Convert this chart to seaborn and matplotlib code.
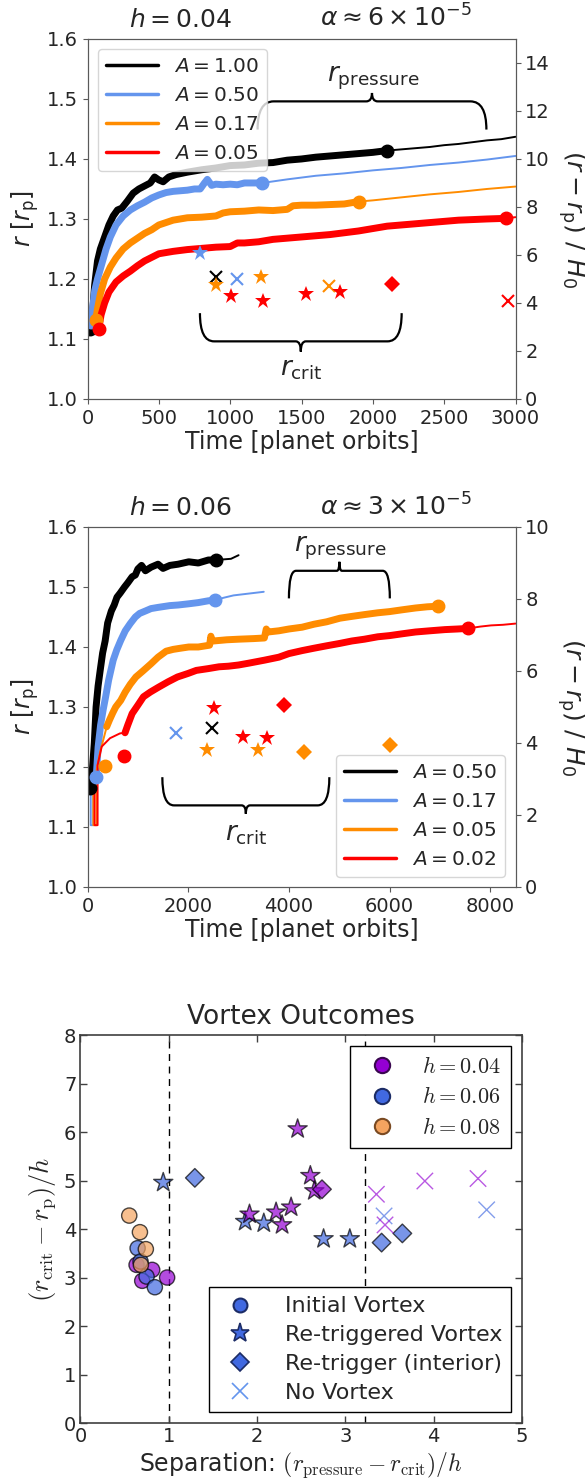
import numpy as np
import pandas as pd
import matplotlib
matplotlib.use("Agg")
import matplotlib.pyplot as plt
from matplotlib.path import Path
from matplotlib.patches import PathPatch
from matplotlib.lines import Line2D
from matplotlib.font_manager import FontProperties
import seaborn as sns

# ---------------- panel 1: h = 0.04 ----------------
h04_amps = ['1.00', '0.50', '0.17', '0.05']

h04_black_t = [15, 25, 35, 50, 70, 90, 120, 150, 180, 210, 240, 280, 320, 360, 400, 440, 470, 500, 530,
               570, 620, 700, 800, 900, 1000, 1100, 1200, 1300, 1400, 1500, 1600, 1700, 1800, 1900, 2000, 2100]
h04_black_r = [1.115, 1.118, 1.14, 1.19, 1.23, 1.25, 1.27, 1.29, 1.305, 1.315, 1.318, 1.33, 1.343, 1.35, 1.355,
               1.36, 1.37, 1.365, 1.362, 1.37, 1.374, 1.378, 1.382, 1.385, 1.389, 1.39, 1.393, 1.394, 1.398,
               1.4, 1.403, 1.405, 1.407, 1.409, 1.411, 1.414]
h04_black_tail_t = [2100, 2200, 2300, 2400, 2500, 2600, 2700, 2800, 2900, 3000]
h04_black_tail_r = [1.414, 1.416, 1.418, 1.42, 1.423, 1.425, 1.428, 1.431, 1.433, 1.437]

h04_blue_t = [20, 35, 50, 70, 100, 130, 160, 200, 250, 300, 350, 400, 450, 500, 550, 600, 650, 700, 750,
              790, 820, 840, 870, 900, 950, 1000, 1050, 1100, 1150, 1224]
h04_blue_r = [1.13, 1.15, 1.18, 1.2, 1.225, 1.25, 1.27, 1.29, 1.305, 1.315, 1.322, 1.328, 1.335, 1.34, 1.344,
              1.346, 1.347, 1.348, 1.35, 1.35, 1.36, 1.366, 1.356, 1.358, 1.357, 1.358, 1.357, 1.36, 1.36, 1.36]
h04_blue_tail_t = [1224, 1400, 1600, 1800, 2000, 2200, 2400, 2600, 2800, 3000]
h04_blue_tail_r = [1.36, 1.366, 1.372, 1.376, 1.381, 1.385, 1.39, 1.394, 1.399, 1.405]

h04_orange_t = [56, 70, 90, 120, 160, 200, 250, 300, 350, 400, 450, 500, 600, 700, 800, 900, 950, 1000,
                1100, 1200, 1300, 1400, 1440, 1500, 1600, 1700, 1800, 1900]
h04_orange_r = [1.131, 1.15, 1.175, 1.2, 1.22, 1.235, 1.25, 1.26, 1.268, 1.276, 1.282, 1.29, 1.298, 1.302,
                1.303, 1.305, 1.31, 1.312, 1.313, 1.315, 1.314, 1.316, 1.322, 1.323, 1.323, 1.324, 1.325, 1.329]
h04_orange_tail_t = [1900, 2000, 2200, 2400, 2600, 2800, 3000]
h04_orange_tail_r = [1.329, 1.331, 1.336, 1.341, 1.345, 1.35, 1.354]

h04_red_t = [79, 95, 120, 150, 200, 250, 300, 350, 400, 450, 500, 600, 700, 800, 900, 1000, 1050, 1100,
             1200, 1300, 1400, 1500, 1600, 1700, 1800, 1900, 2000, 2100, 2200, 2300, 2400, 2500, 2600,
             2700, 2800, 2930]
h04_red_r = [1.117, 1.14, 1.16, 1.178, 1.195, 1.205, 1.213, 1.222, 1.23, 1.236, 1.242, 1.246, 1.249, 1.251,
             1.253, 1.254, 1.26, 1.26, 1.262, 1.266, 1.268, 1.27, 1.272, 1.274, 1.277, 1.28, 1.284, 1.288,
             1.29, 1.292, 1.294, 1.296, 1.298, 1.299, 1.3, 1.301]
h04_red_tail_t = [2930, 3000]
h04_red_tail_r = [1.301, 1.303]

h04_start_t = [20, 25, 56, 79]
h04_start_r = [1.117, 1.128, 1.131, 1.117]

h04_crit_t = [788, 899, 899, 1047, 1218, 1007, 1229, 1528, 1694, 1771, 2136, 2947]
h04_crit_r = [1.243, 1.203, 1.190, 1.200, 1.204, 1.172, 1.164, 1.175, 1.189, 1.178, 1.192, 1.164]
h04_crit_amp = ['0.50', '1.00', '0.17', '0.50', '0.17', '0.05', '0.05', '0.05', '0.17', '0.05', '0.05', '0.05']
h04_crit_kind = ['star', 'x', 'star', 'x', 'star', 'star', 'star', 'star', 'x', 'star', 'diamond', 'x']

# ---------------- panel 2: h = 0.06 ----------------
h06_amps = ['0.50', '0.17', '0.05', '0.02']

h06_black_t = [0, 60, 100, 135, 170, 210, 250, 300, 350, 400, 473, 530, 585, 650, 735, 800, 886, 950, 1000,
               1073, 1150, 1261, 1400, 1500, 1636, 1800, 2011, 2200, 2400, 2560]
h06_black_r = [1.165, 1.167, 1.2, 1.24, 1.3, 1.335, 1.36, 1.39, 1.41, 1.44, 1.46, 1.47, 1.483, 1.49, 1.5,
               1.507, 1.517, 1.52, 1.53, 1.536, 1.527, 1.533, 1.538, 1.531, 1.536, 1.538, 1.542, 1.54, 1.545, 1.545]
h06_black_tail_t = [2560, 2700, 2850, 3000]
h06_black_tail_r = [1.545, 1.546, 1.547, 1.553]
h06_black_head_t = [0, 40]
h06_black_head_r = [1.165, 1.165]

h06_blue_t = [173, 210, 260, 310, 360, 420, 510, 580, 660, 750, 848, 950, 1036, 1150, 1261, 1400, 1636,
              1800, 2011, 2200, 2400, 2537]
h06_blue_r = [1.183, 1.233, 1.27, 1.295, 1.317, 1.345, 1.378, 1.395, 1.411, 1.427, 1.439, 1.45, 1.456, 1.46,
              1.464, 1.466, 1.469, 1.47, 1.472, 1.474, 1.477, 1.478]
h06_blue_tail_t = [2537, 2700, 2900, 3100, 3300, 3500]
h06_blue_tail_r = [1.478, 1.482, 1.486, 1.488, 1.49, 1.492]
h06_blue_head_t = [64, 64, 115, 115, 173]
h06_blue_head_r = [1.17, 1.103, 1.103, 1.17, 1.183]

h06_orange_t = [381, 435, 500, 560, 660, 750, 850, 961, 1100, 1261, 1400, 1561, 1700, 1850, 2011, 2200,
                2424, 2450, 2470, 2500, 2762, 3000, 3300, 3512, 3550, 3587, 3800, 4000, 4263, 4500, 4750,
                5013, 5250, 5500, 5764, 6000, 6250, 6514, 6750, 6965]
h06_orange_r = [1.267, 1.278, 1.29, 1.3, 1.311, 1.325, 1.338, 1.35, 1.36, 1.372, 1.383, 1.393, 1.396,
                1.398, 1.4, 1.4, 1.403, 1.418, 1.412, 1.41, 1.412, 1.413, 1.414, 1.415, 1.43, 1.425, 1.427,
                1.43, 1.433, 1.438, 1.442, 1.448, 1.451, 1.454, 1.457, 1.459, 1.462, 1.465, 1.467, 1.468]
h06_orange_head_t = [115, 115, 180, 180, 250, 381]
h06_orange_head_r = [1.17, 1.103, 1.103, 1.195, 1.225, 1.267]

h06_red_t = [745, 800, 886, 1000, 1111, 1250, 1411, 1600, 1786, 2000, 2161, 2400, 2612, 2800, 3000, 3200,
             3512, 3800, 4000, 4263, 4500, 4750, 5013, 5250, 5500, 5764, 6000, 6250, 6514, 6800, 7100,
             7350, 7565]
h06_red_r = [1.257, 1.27, 1.289, 1.303, 1.317, 1.325, 1.333, 1.342, 1.35, 1.356, 1.361, 1.364, 1.367,
             1.368, 1.37, 1.373, 1.378, 1.383, 1.389, 1.394, 1.398, 1.402, 1.406, 1.41, 1.413, 1.417,
             1.419, 1.422, 1.425, 1.427, 1.429, 1.43, 1.431]
h06_red_tail_t = [7565, 7800, 8015, 8250, 8500]
h06_red_tail_r = [1.431, 1.434, 1.436, 1.437, 1.439]
h06_red_head_t = [140, 140, 200, 200, 282, 447, 645, 745]
h06_red_head_r = [1.16, 1.103, 1.103, 1.203, 1.234, 1.248, 1.256, 1.257]

h06_start_t = [40, 173, 350, 731]
h06_start_r = [1.165, 1.183, 1.202, 1.219]

h06_crit_t = [1749, 2477, 2514, 2364, 3085, 3557, 3385, 3910, 4300, 6004]
h06_crit_r = [1.257, 1.265, 1.298, 1.229, 1.250, 1.249, 1.229, 1.304, 1.225, 1.236]
h06_crit_amp = ['0.17', '0.50', '0.02', '0.05', '0.02', '0.02', '0.05', '0.02', '0.05', '0.05']
h06_crit_kind = ['x', 'x', 'star', 'star', 'star', 'star', 'star', 'diamond', 'diamond', 'diamond']

# ---------------- panel 3: vortex outcomes ----------------
init_sep = [0.635, 0.812, 0.699, 0.981, 0.647, 0.680, 0.748, 0.842, 0.552, 0.673, 0.740, 0.684]
init_crit = [3.261, 3.158, 2.932, 3.000, 3.605, 3.330, 3.020, 2.800, 4.277, 3.935, 3.585, 3.261]
init_h = [0.04, 0.04, 0.04, 0.04, 0.06, 0.06, 0.06, 0.06, 0.08, 0.08, 0.08, 0.08]

retrig_sep = [0.937, 1.865, 2.076, 2.753, 3.050, 2.459, 2.603, 2.648, 2.385, 2.215, 1.914, 2.283]
retrig_crit = [4.959, 4.153, 4.120, 3.797, 3.797, 6.063, 5.100, 4.786, 4.450, 4.347, 4.305, 4.085]
retrig_h = [0.06, 0.06, 0.06, 0.06, 0.06, 0.04, 0.04, 0.04, 0.04, 0.04, 0.04, 0.04]

interior_sep = [1.295, 3.410, 3.645, 2.735]
interior_crit = [5.055, 3.720, 3.910, 4.820]
interior_h = [0.06, 0.06, 0.06, 0.04]

novortex_sep = [3.438, 4.600, 3.351, 3.900, 4.502, 3.449]
novortex_crit = [4.270, 4.396, 4.717, 4.990, 5.041, 4.085]
novortex_h = [0.06, 0.06, 0.04, 0.04, 0.04, 0.04]

boundary_sep = [1.0, 3.22]

line_colors = ['black', 'cornflowerblue', 'darkorange', 'red']
kind_style = {
    'star': dict(marker='*', ms=12, mew=0),
    'x': dict(marker='x', ms=8, mew=1.5),
    'diamond': dict(marker='D', ms=8, mew=0),
}
h_palette = {0.04: 'darkviolet', 0.06: 'royalblue', 0.08: 'sandybrown'}
h_edges = {0.04: '#3a0750', 0.06: '#1c2c66', 0.08: '#7a4a22'}


def draw_brace(ax, x0, x1, y, end, tip, corner=0.07, notch=0.025):
    # curly brace: ends at height `end`, middle point at height `tip`
    w = (x1 - x0) * corner
    n = (x1 - x0) * notch
    xm = 0.5 * (x0 + x1)
    verts = [(x0, end), (x0, y), (x0 + w, y),
             (xm - n, y), (xm, y), (xm, tip),
             (xm, y), (xm + n, y),
             (x1 - w, y), (x1, y), (x1, end)]
    codes = [Path.MOVETO, Path.CURVE3, Path.CURVE3,
             Path.LINETO, Path.CURVE3, Path.CURVE3,
             Path.CURVE3, Path.CURVE3,
             Path.LINETO, Path.CURVE3, Path.CURVE3]
    ax.add_patch(PathPatch(Path(verts, codes), fill=False, lw=1.6, edgecolor='k'))


def draw_run(ax, t, r, thin_parts, color):
    for tt, rr in thin_parts:
        sns.lineplot(x=tt, y=rr, ax=ax, color=color, lw=1.4, sort=False, estimator=None)
    sns.lineplot(x=t, y=r, ax=ax, color=color, lw=5, sort=False, estimator=None,
                 solid_capstyle='round', solid_joinstyle='round')
    ax.plot(t[-1], r[-1], 'o', color=color, ms=9)


def style_time_panel(ax, amps, hval, alpha_txt, rmax_h, xmax, xticks, legend_loc):
    ax.set_xlim(0, xmax)
    ax.set_ylim(1.0, 1.6)
    ax.set_xticks(xticks)
    ax.set_yticks([1.0, 1.1, 1.2, 1.3, 1.4, 1.5, 1.6])
    ax.set_xlabel('Time [planet orbits]', fontsize=17, labelpad=2)
    ax.set_ylabel(r'$r$ [$r_{\rm p}$]', fontsize=17)
    ax.tick_params(labelsize=14, color='0.35')
    for s in ax.spines.values():
        s.set_color('0.35')
        s.set_visible(True)
    tw = ax.twinx()
    tw.set_ylim(0, rmax_h)
    tw.set_yticks(np.arange(0, rmax_h + 0.1, 2))
    tw.tick_params(labelsize=14, color='0.35')
    for s in tw.spines.values():
        s.set_color('0.35')
    tw.set_ylabel(r'$(r - r_{\rm p})\ /\ H_0$', rotation=270, va='bottom', fontsize=18, labelpad=4)
    ax.text(0.216, 1.033, r'$h = %s$' % hval, transform=ax.transAxes, ha='center',
            va='baseline', fontsize=18)
    ax.text(0.72, 1.033, alpha_txt, transform=ax.transAxes, ha='center', va='baseline', fontsize=18)
    handles = [Line2D([], [], color=c, lw=2.5) for c in line_colors]
    labels = [r'$A = %s$' % a for a in amps]
    ax.legend(handles, labels, loc=legend_loc, fontsize=14.5, handlelength=2.6)


def draw_crit(ax, ts, rs, amps_pt, kinds, amps):
    for t, r, a, k in zip(ts, rs, amps_pt, kinds):
        ax.plot(t, r, ls='none', color=line_colors[amps.index(a)], **kind_style[k])


sns.set_style("ticks")
plt.rcParams['font.family'] = ['DejaVu Sans']
plt.rcParams['mathtext.fontset'] = 'dejavusans'

fig = plt.figure(figsize=(5.85, 14.82), dpi=100)
ax1 = fig.add_axes([0.1496, 0.7308, 0.7316, 0.2429])
ax2 = fig.add_axes([0.1496, 0.4015, 0.7316, 0.2429])
ax3 = fig.add_axes([0.1376, 0.0398, 0.7547, 0.2618])

# panel 1
draw_run(ax1, h04_black_t, h04_black_r, [(h04_black_tail_t, h04_black_tail_r)], 'black')
draw_run(ax1, h04_blue_t, h04_blue_r, [(h04_blue_tail_t, h04_blue_tail_r)], 'cornflowerblue')
draw_run(ax1, h04_orange_t, h04_orange_r, [(h04_orange_tail_t, h04_orange_tail_r)], 'darkorange')
draw_run(ax1, h04_red_t, h04_red_r, [(h04_red_tail_t, h04_red_tail_r)], 'red')
for t, r, c in zip(h04_start_t, h04_start_r, line_colors):
    ax1.plot(t, r, 'o', color=c, ms=9)
draw_crit(ax1, h04_crit_t, h04_crit_r, h04_crit_amp, h04_crit_kind, h04_amps)
draw_brace(ax1, 1192, 2796, 1.496, 1.449, 1.51)
ax1.text(2003, 1.535, r'$r_{\rm pressure}$', ha='center', va='center', fontsize=19)
draw_brace(ax1, 788, 2202, 1.096, 1.143, 1.079)
ax1.text(1501, 1.05, r'$r_{\rm crit}$', ha='center', va='center', fontsize=19)
style_time_panel(ax1, h04_amps, '0.04', r'$\alpha \approx 6 \times 10^{-5}$', 15, 3000,
                 [0, 500, 1000, 1500, 2000, 2500, 3000], 'upper left')

# panel 2
draw_run(ax2, h06_black_t, h06_black_r,
         [(h06_black_tail_t, h06_black_tail_r), (h06_black_head_t, h06_black_head_r)], 'black')
draw_run(ax2, h06_blue_t, h06_blue_r,
         [(h06_blue_tail_t, h06_blue_tail_r), (h06_blue_head_t, h06_blue_head_r)], 'cornflowerblue')
draw_run(ax2, h06_orange_t, h06_orange_r, [(h06_orange_head_t, h06_orange_head_r)], 'darkorange')
draw_run(ax2, h06_red_t, h06_red_r,
         [(h06_red_tail_t, h06_red_tail_r), (h06_red_head_t, h06_red_head_r)], 'red')
for t, r, c in zip(h06_start_t, h06_start_r, line_colors):
    ax2.plot(t, r, 'o', color=c, ms=9)
draw_crit(ax2, h06_crit_t, h06_crit_r, h06_crit_amp, h06_crit_kind, h06_amps)
draw_brace(ax2, 4000, 6004, 1.527, 1.481, 1.542)
ax2.text(5013, 1.565, r'$r_{\rm pressure}$', ha='center', va='center', fontsize=19)
draw_brace(ax2, 1486, 4803, 1.136, 1.183, 1.122)
ax2.text(3160, 1.089, r'$r_{\rm crit}$', ha='center', va='center', fontsize=19)
style_time_panel(ax2, h06_amps, '0.06', r'$\alpha \approx 3 \times 10^{-5}$', 10, 8500,
                 [0, 2000, 4000, 6000, 8000], 'lower right')

# panel 3
for xv in boundary_sep:
    ax3.axvline(xv, color='k', ls='--', lw=1, dashes=(5, 4), zorder=0)

groups = [
    (init_sep, init_crit, init_h, 'o', 120),
    (retrig_sep, retrig_crit, retrig_h, '*', 210),
    (interior_sep, interior_crit, interior_h, 'D', 90),
]
for xs, ys, hs, mk, size in groups:
    df = pd.DataFrame({'sep': xs, 'crit': ys, 'h': hs})
    sns.scatterplot(data=df, x='sep', y='crit', hue='h', palette=h_palette, marker=mk, s=size,
                    alpha=0.7, edgecolor='k', linewidth=1, legend=False, ax=ax3, zorder=3)
nv = pd.DataFrame({'sep': novortex_sep, 'crit': novortex_crit, 'h': novortex_h})
ax3.scatter(nv['sep'], nv['crit'], c=[h_palette[h] for h in nv['h']], marker='x', s=140,
            linewidths=1, alpha=0.65, zorder=3)

ax3.set_xlim(0, 5)
ax3.set_ylim(0, 8)
ax3.set_xticks(range(0, 6))
ax3.set_yticks(range(0, 9))
ax3.tick_params(direction='in', top=True, right=True, length=5, width=1, labelsize=14,
                pad=3, color='0.25')
for s in ax3.spines.values():
    s.set_visible(True)
    s.set_color('0.25')
    s.set_linewidth(1.2)
ax3.set_title('Vortex Outcomes', fontsize=19, pad=8)
xl = ax3.set_xlabel(r'Separation: $(r_{\rm pressure} - r_{\rm crit})/h$', fontsize=17, labelpad=3)
xl.set_math_fontfamily('cm')
yl = ax3.set_ylabel(r'$(r_{\rm crit} - r_{\rm p})/h$', fontsize=19, labelpad=4)
yl.set_math_fontfamily('cm')

h_handles = [Line2D([], [], ls='none', marker='o', ms=11, mfc=h_palette[h], mec=h_edges[h], mew=1.5)
             for h in [0.04, 0.06, 0.08]]
h_labels = [r'$h = %.2f$' % h for h in [0.04, 0.06, 0.08]]
leg_h = ax3.legend(h_handles, h_labels, loc='upper right', fancybox=False, framealpha=1,
                   edgecolor='k', handletextpad=0.8, borderpad=0.45, labelspacing=0.42,
                   prop=FontProperties(size=16, math_fontfamily='cm'))
leg_h.get_frame().set_linewidth(1.0)
ax3.add_artist(leg_h)

o_handles = [
    Line2D([], [], ls='none', marker='o', ms=10, mfc='royalblue', mec='#1c2c66', mew=1.5),
    Line2D([], [], ls='none', marker='*', ms=14, mfc='royalblue', mec='#1c2c66', mew=1.2),
    Line2D([], [], ls='none', marker='D', ms=9, mfc='royalblue', mec='#1c2c66', mew=1.2),
    Line2D([], [], ls='none', marker='x', ms=12, mec='cornflowerblue', mew=1.2),
]
o_labels = ['Initial Vortex', 'Re-triggered Vortex', 'Re-trigger (interior)', 'No Vortex']
leg_o = ax3.legend(o_handles, o_labels, loc='lower right', fancybox=False, framealpha=1,
                   edgecolor='k', fontsize=16, handletextpad=1.0, borderpad=0.4, labelspacing=0.4)
leg_o.get_frame().set_linewidth(1.0)

fig.savefig('out.png', dpi=100)
